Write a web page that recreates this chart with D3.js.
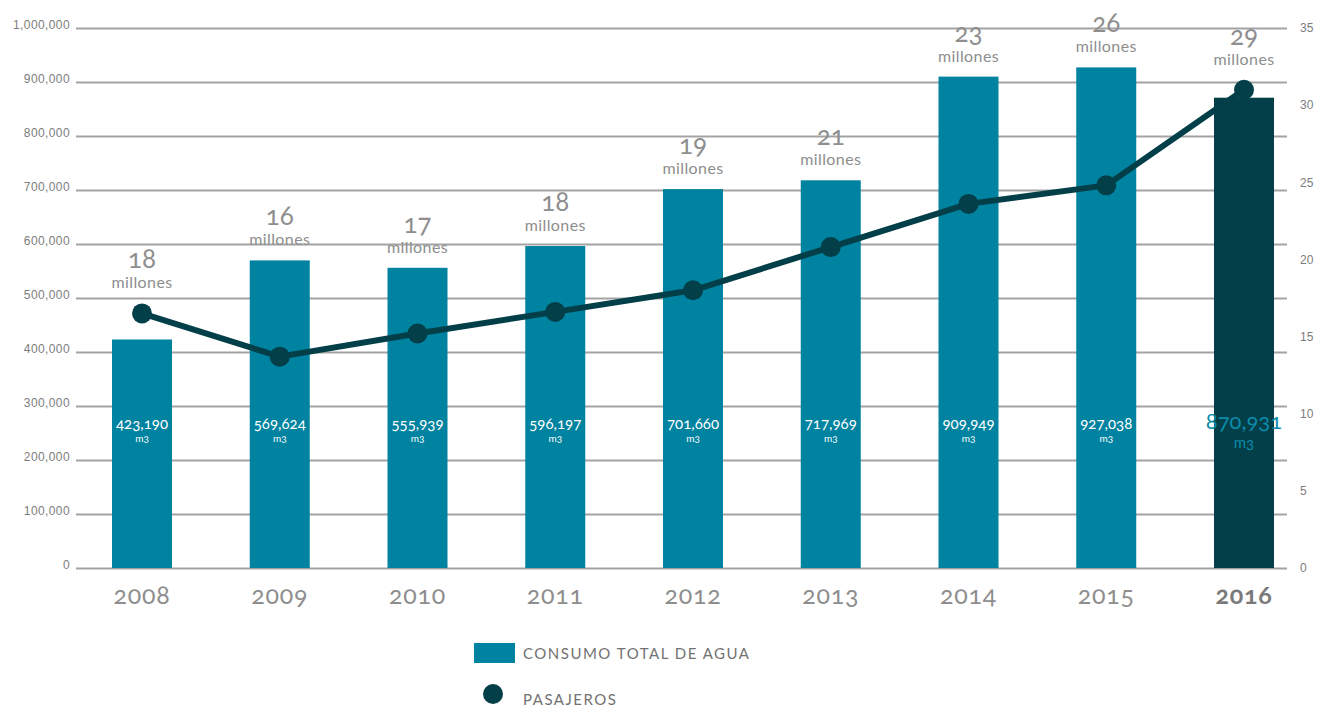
<!DOCTYPE html>
<html>
<head>
<meta charset="utf-8">
<script src="https://cdn.jsdelivr.net/npm/d3@7"></script>
<style>
  body { margin: 0; background: #fff; }
  svg { display: block; font-family: Lato, 'Open Sans', sans-serif; font-variant-numeric: oldstyle-nums; }
</style>
</head>
<body>
<div id="chart"></div>
<script>
/* global d3 */

// Data
const years = ['2008', '2009', '2010', '2011', '2012', '2013', '2014', '2015', '2016']
const water = [423190, 569624, 555939, 596197, 701660, 717969, 909949, 927038, 870931]
const passengers = [16.5, 13.7, 15.2, 16.6, 18.0, 20.8, 23.6, 24.8, 31.0]
const passengerLabels = ['18', '16', '17', '18', '19', '21', '23', '26', '29']
const leftTicks = [0, 100000, 200000, 300000, 400000, 500000, 600000, 700000, 800000, 900000, 1000000]
const rightTicks = [0, 5, 10, 15, 20, 25, 30, 35]

// Our canvas
const width = 1325,
  height = 709,
  plotTop = 28,
  plotBottom = 568,
  gridLeft = 76,
  gridRight = 1287,
  barWidth = 60

const teal = '#0083a0',
  dark = '#033f48',
  grey = '#8e8e8e'

let svg = d3.select('#chart')
  .append('svg')
  .attr('width', width)
  .attr('height', height)

const x = d3.scalePoint()
  .domain(years)
  .range([142, 1244])

const y = d3.scaleLinear()
  .domain([0, 1000000])
  .range([plotBottom, plotTop])

const y2 = d3.scaleLinear()
  .domain([0, 35])
  .range([plotBottom, plotTop])

// left axis + gridlines
let leftAxis = svg.append('g')
  .attr('transform', `translate(${gridLeft},0)`)
  .call(d3.axisLeft(y)
    .tickValues(leftTicks)
    .tickSize(-(gridRight - gridLeft))
    .tickPadding(6)
    .tickFormat(d3.format(',')))
leftAxis.select('.domain').remove()
leftAxis.selectAll('line').attr('stroke', '#a3a3a3').attr('stroke-width', 2)
leftAxis.selectAll('text')
  .attr('dy', '0.05em')
  .attr('fill', '#7d7d7d')
  .style('font-size', '12px')
  .style('letter-spacing', '0.4px')

// right axis
let rightAxis = svg.append('g')
  .attr('transform', 'translate(1300,0)')
  .call(d3.axisRight(y2).tickValues(rightTicks).tickSize(0).tickPadding(0))
rightAxis.select('.domain').remove()
rightAxis.selectAll('text')
  .attr('fill', '#7d7d7d')
  .style('font-size', '12px')

// bars
svg.selectAll('rect.bar')
  .data(water)
  .enter()
  .append('rect')
  .attr('class', 'bar')
  .attr('x', (d, i) => x(years[i]) - barWidth / 2)
  .attr('y', d => y(d))
  .attr('width', barWidth)
  .attr('height', d => y(0) - y(d))
  .attr('fill', (d, i) => i === years.length - 1 ? dark : teal)

// values inside the bars
const labelY = 429
let last = years.length - 1
let valueLabels = svg.selectAll('g.value')
  .data(water)
  .enter()
  .append('g')
  .attr('class', 'value')
  .attr('transform', (d, i) => `translate(${x(years[i])},${labelY})`)
  .attr('text-anchor', 'middle')
  .attr('fill', (d, i) => i === last ? '#0a8cab' : '#fff')
valueLabels.append('text')
  .style('font-size', (d, i) => i === last ? '22px' : '15px')
  .text(d => d3.format(',')(d))
valueLabels.append('text')
  .attr('y', (d, i) => i === last ? 19 : 13)
  .style('font-size', (d, i) => i === last ? '15px' : '10px')
  .text('m3')

// passenger line
const line = d3.line()
  .x((d, i) => x(years[i]))
  .y(d => y2(d))

svg.append('path')
  .datum(passengers)
  .attr('d', line)
  .attr('fill', 'none')
  .attr('stroke', dark)
  .attr('stroke-width', 6)
  .attr('stroke-linejoin', 'round')

svg.selectAll('circle.pt')
  .data(passengers)
  .enter()
  .append('circle')
  .attr('class', 'pt')
  .attr('cx', (d, i) => x(years[i]))
  .attr('cy', d => y2(d))
  .attr('r', 10)
  .attr('fill', dark)

// "xx millones" above bar or point
let tops = passengers.map((d, i) => Math.min(y(water[i]), y2(d) - 10) - 15)
let topLabels = svg.selectAll('g.top')
  .data(passengerLabels)
  .enter()
  .append('g')
  .attr('class', 'top')
  .attr('transform', (d, i) => `translate(${x(years[i])},${tops[i]})`)
  .attr('text-anchor', 'middle')
  .attr('fill', grey)
topLabels.append('text')
  .attr('y', -20)
  .style('font-size', '26px')
  .text(d => d)
topLabels.append('text')
  .style('font-size', '16px')
  .style('letter-spacing', '0.4px')
  .text('millones')

// year labels
svg.selectAll('text.year')
  .data(years)
  .enter()
  .append('text')
  .attr('class', 'year')
  .attr('x', d => x(d))
  .attr('y', 604)
  .attr('text-anchor', 'middle')
  .attr('fill', (d, i) => i === last ? '#7a7a7a' : grey)
  .style('font-size', '25px')
  .style('font-weight', (d, i) => i === last ? 'bold' : 'normal')
  .style('letter-spacing', '0.8px')
  .text(d => d)

// legend
let legend = svg.append('g')
legend.append('rect')
  .attr('x', 474).attr('y', 643)
  .attr('width', 41).attr('height', 20)
  .attr('fill', teal)
legend.append('circle')
  .attr('cx', 493).attr('cy', 694)
  .attr('r', 10)
  .attr('fill', dark)
legend.selectAll('text')
  .data(['CONSUMO TOTAL DE AGUA', 'PASAJEROS'])
  .enter()
  .append('text')
  .attr('x', 523)
  .attr('y', (d, i) => i === 0 ? 659 : 705)
  .attr('fill', '#727272')
  .style('font-size', '15px')
  .style('letter-spacing', '1.5px')
  .text(d => d)
</script>
</body>
</html>
